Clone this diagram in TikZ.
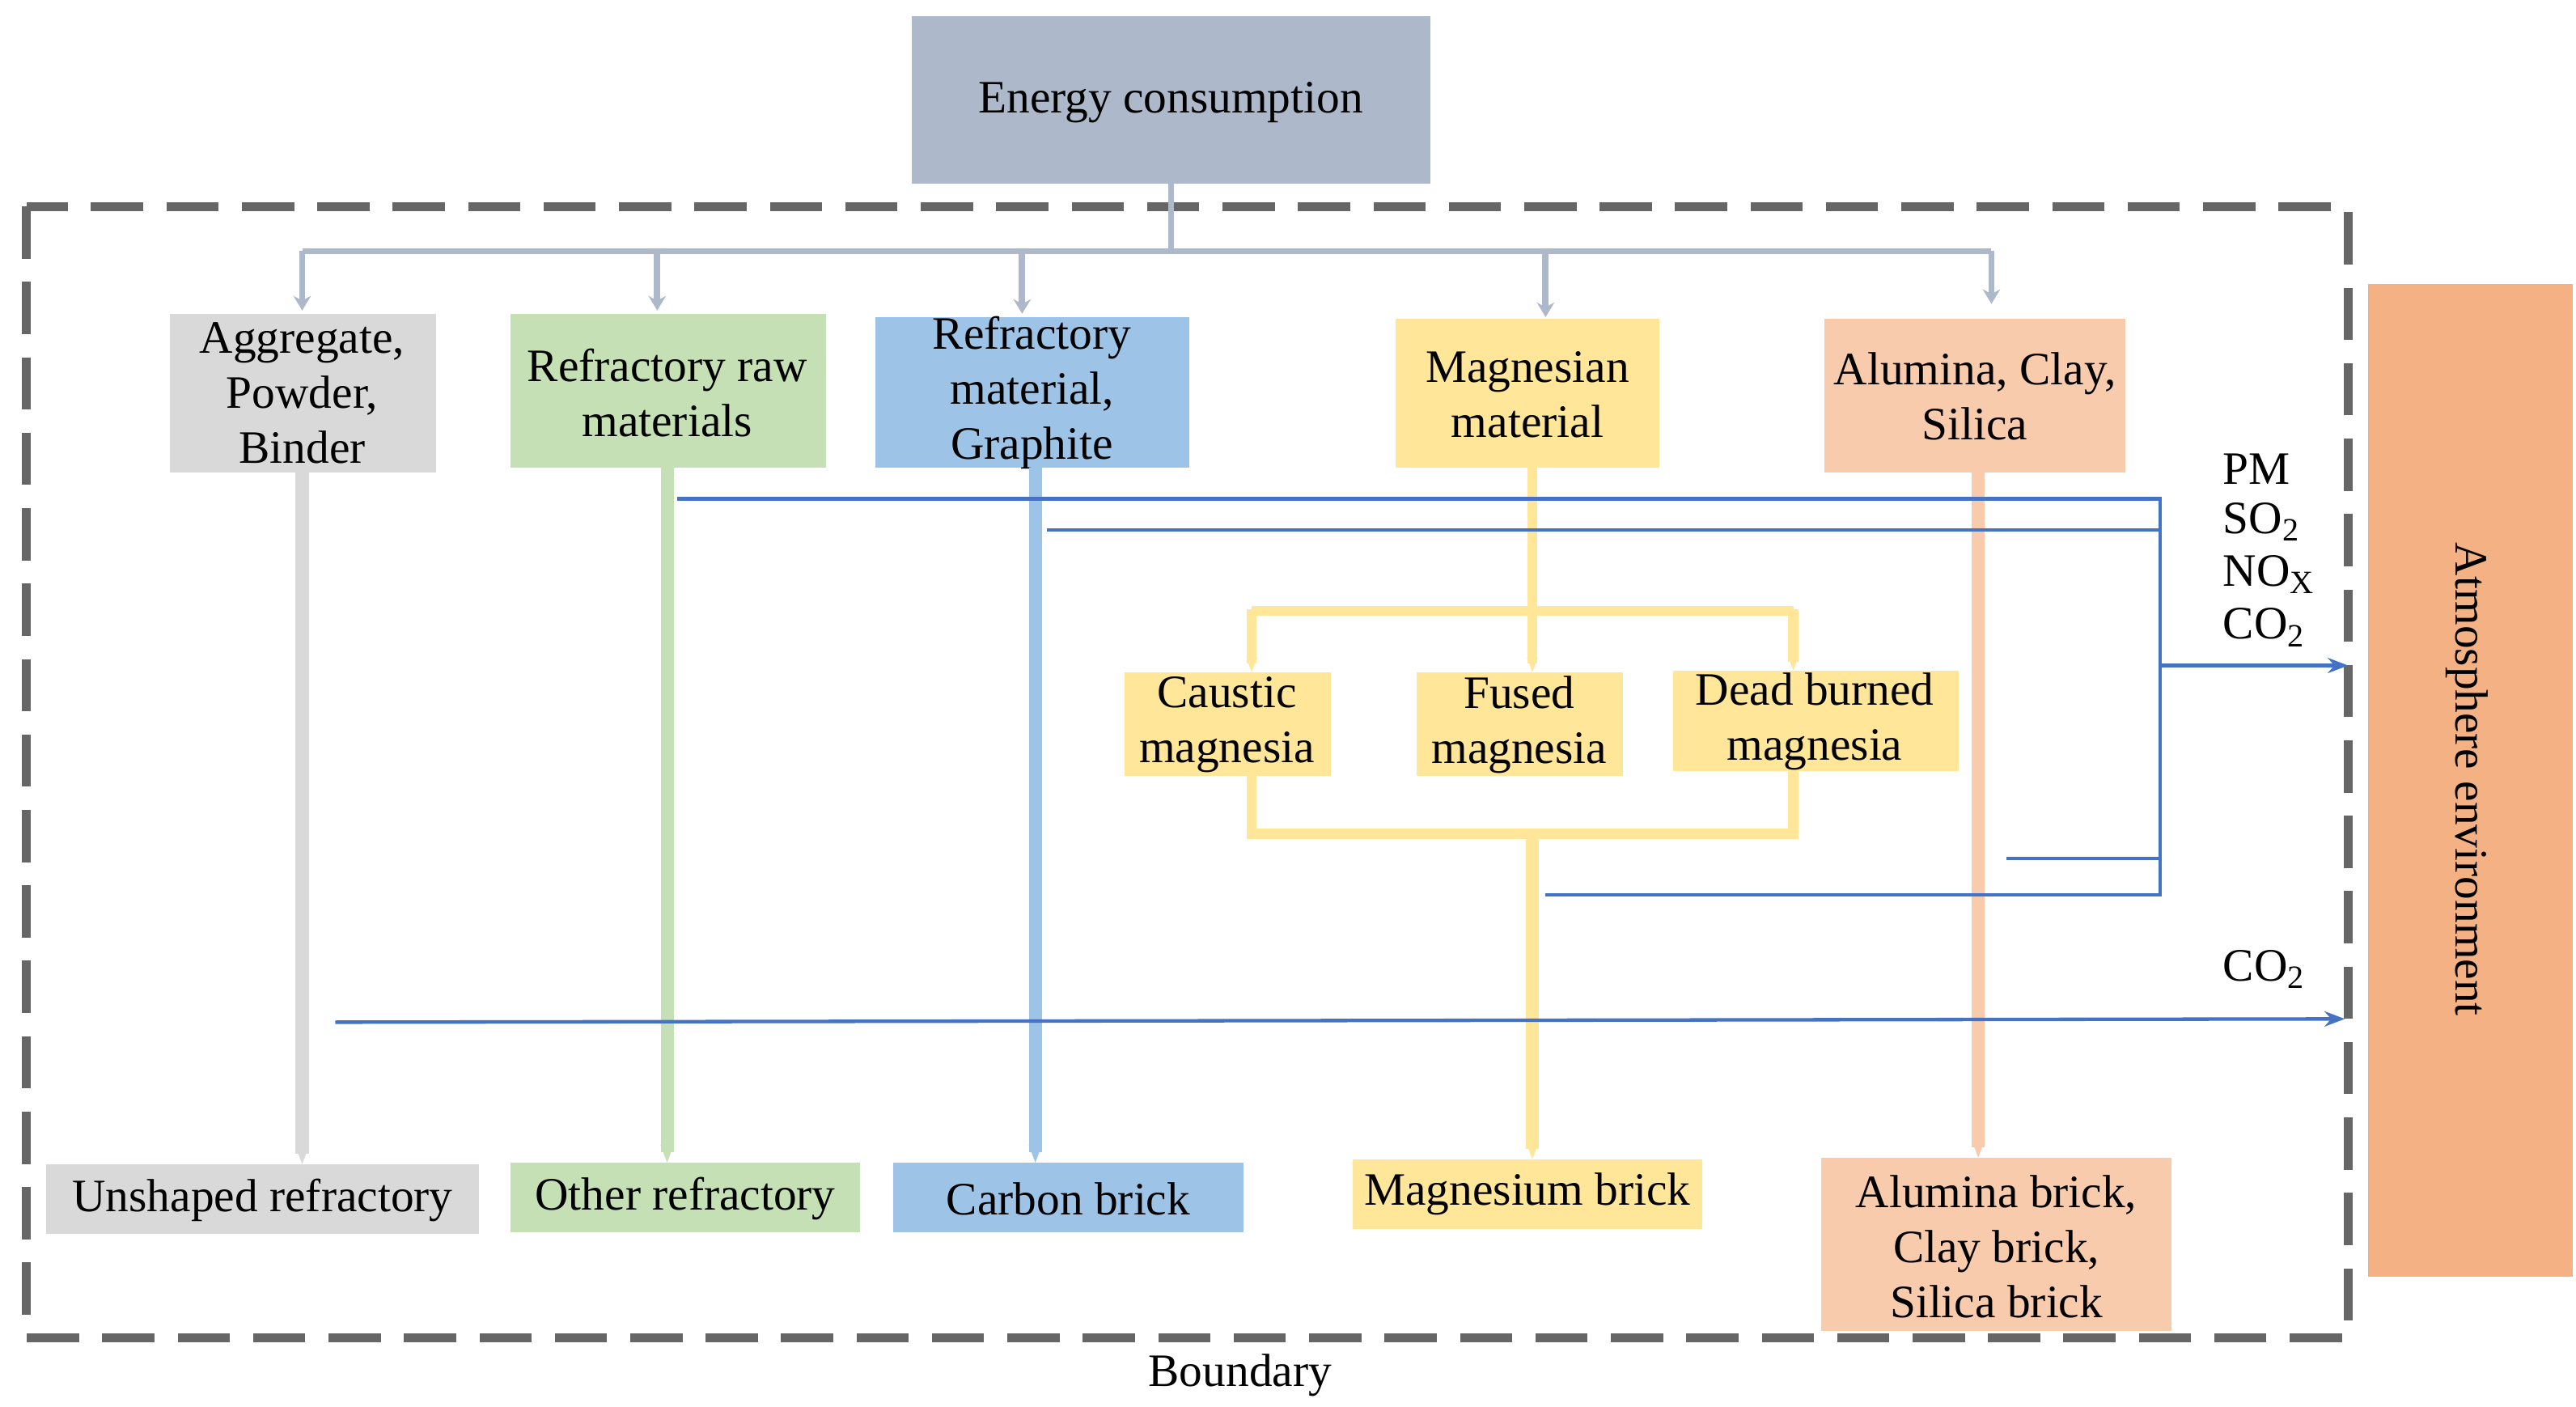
\documentclass[tikz,border=0pt]{standalone}
\usepackage{fontspec}
\setmainfont{Liberation Serif}
\usetikzlibrary{arrows.meta}
\definecolor{cE}{HTML}{ADB9CA}\definecolor{cG}{HTML}{D9D9D9}\definecolor{cGr}{HTML}{C5E0B4}
\definecolor{cB}{HTML}{9DC3E6}\definecolor{cY}{HTML}{FFE699}\definecolor{cO}{HTML}{F8CBAD}
\definecolor{cA}{HTML}{F4B183}\definecolor{cL}{HTML}{4472C4}
\begin{document}
\begin{tikzpicture}[x=0.02cm,y=-0.02cm,
 box/.style={draw=none,align=center,font=\fontsize{16}{19}\selectfont,inner sep=0},
 lbl/.style={font=\fontsize{16}{19}\selectfont,inner sep=0},
 thin/.style={line width=2.2pt,-{Stealth[length=5pt,width=6pt]}},
 thick/.style={line width=4.5pt},
 em/.style={cL,line width=1.2pt}]
\useasboundingbox (0,0) rectangle (1560,852);
\fill[cE] (552,10) rectangle (866,111); \node[box] (E) at (709,62) {Energy consumption};
\draw[gray!80!black,line width=3pt,dash pattern=on 18pt off 8pt] (16,125) rectangle (1422,810);
\fill[cA] (1434,172) rectangle (1558,773);
\node[lbl,rotate=-90] (atm) at (1494,472) {Atmosphere environment};
% top boxes
\fill[cG] (103,190) rectangle (264,286); \node[box] (a1) at (183,238) {Aggregate,\\Powder,\\Binder};
\fill[cGr] (309,190) rectangle (500,283); \node[box] (a2) at (404,238) {Refractory raw\\materials};
\fill[cB] (530,192) rectangle (720,283); \node[box] (a3) at (625,238) {Refractory\\material,\\Graphite};
\fill[cY] (845,193) rectangle (1005,283); \node[box] (a4) at (925,239) {Magnesian\\material};
\fill[cO] (1105,193) rectangle (1287,286); \node[box] (a5) at (1196,240) {Alumina, Clay,\\Silica};
% bottom boxes
\fill[cG] (28,705) rectangle (290,747); \node[box] (b1) at (159,727) {Unshaped refractory};
\fill[cGr] (309,704) rectangle (521,746); \node[box] (b2) at (415,726) {Other refractory};
\fill[cB] (541,704) rectangle (753,746); \node[box] (b3) at (647,726) {Carbon brick};
\fill[cY] (819,702) rectangle (1031,744); \node[box] (b4) at (925,723) {Magnesium brick};
\fill[cO] (1103,701) rectangle (1315,806); \node[box] (b5) at (1209,755) {Alumina brick,\\Clay brick,\\Silica brick};
% middle
\fill[cY] (681,407) rectangle (806,470); \node[box] (m1) at (743,439) {Caustic\\magnesia};
\fill[cY] (858,407) rectangle (983,470); \node[box] (m2) at (920,439) {Fused\\magnesia};
\fill[cY] (1013,406) rectangle (1186,467); \node[box] (m3) at (1099,437) {Dead burned\\magnesia};
% energy branches
\draw[cE,line width=2pt] (709,111) -- (709,152) (183,152) -- (1206,152);
\foreach \x/\y in {183/188,398/188,619/190,936/192,1206/184}
  \draw[cE,thin] (\x,152) -- (\x,\y);
% vertical flows
\draw[cG,thick,-{Stealth[length=6pt]}] (183,286) -- (183,705);
\draw[cGr,thick,-{Stealth[length=6pt]}] (404,283) -- (404,704);
\draw[cB,thick,-{Stealth[length=6pt]}] (627,283) -- (627,704);
\draw[cO,thick,-{Stealth[length=6pt]}] (1198,286) -- (1198,701);
\draw[cY,line width=3.5pt] (928,283) -- (928,370) (758,370) -- (1086,370);
\draw[cY,line width=3.5pt,-{Stealth[length=5pt]}] (758,369) -- (758,407);
\draw[cY,line width=3.5pt,-{Stealth[length=5pt]}] (928,369) -- (928,407);
\draw[cY,line width=3.5pt,-{Stealth[length=5pt]}] (1086,369) -- (1086,406);
\draw[cY,line width=3.5pt] (758,470) -- (758,505) -- (1086,505) -- (1086,467);
\draw[cY,thick,-{Stealth[length=6pt]}] (928,505) -- (928,702);
% emissions
\draw[em] (410,302) -- (1308,302) -- (1308,542) -- (936,542);
\draw[em] (634,321) -- (1308,321);
\draw[em] (1215,520) -- (1308,520);
\draw[em,-{Stealth[length=7pt,open]}] (1308,403) -- (1422,403);
\draw[em,-{Stealth[length=7pt,open]}] (203,619) -- (1420,617);
\node[lbl,anchor=west] (pm) at (1346,284) {PM};
\node[lbl,anchor=west] (so) at (1346,316) {SO\textsubscript{2}};
\node[lbl,anchor=west] (no) at (1346,348) {NO\textsubscript{X}};
\node[lbl,anchor=west] (co) at (1346,380) {CO\textsubscript{2}};
\node[lbl,anchor=west] (co2) at (1346,587) {CO\textsubscript{2}};
\node[lbl] (bd) at (751,833) {Boundary};
\end{tikzpicture}
\end{document}
